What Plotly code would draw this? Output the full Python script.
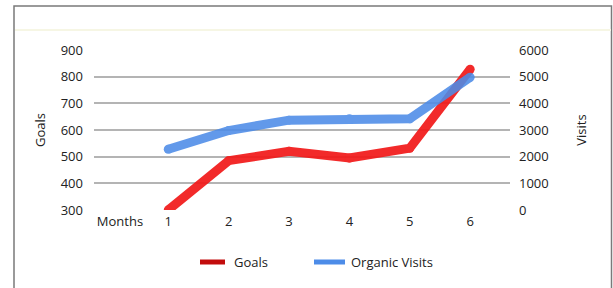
import plotly.graph_objects as go

months = [1, 2, 3, 4, 5, 6]
goals = [300, 485, 520, 495, 532, 828]
visits = [2280, 2980, 3370, 3420, 3420, 4980]
x_tick_vals = [0.2, 1, 2, 3, 4, 5, 6]
x_tick_text = ["Months", "1", "2", "3", "4", "5", "6"]
legend_names = ["Goals", "Organic Visits"]

RED = "#f21a1a"
RED_DARK = "#c20c0c"
BLUE = "#4d8ce8"
FONT = "Open Sans, Noto Sans, sans-serif"

fig = go.Figure()
fig.add_trace(go.Scatter(
    x=months, y=visits, yaxis="y2", name=legend_names[1], mode="lines+markers",
    line=dict(color=BLUE, width=9), marker=dict(color=BLUE, size=9),
    opacity=0.88, showlegend=False))
fig.add_trace(go.Scatter(
    x=months, y=goals, name=legend_names[0], mode="lines+markers",
    line=dict(color=RED, width=9), marker=dict(color=RED, size=9),
    opacity=0.93, showlegend=False))

W, H = 613, 288
L, R, T, B = 94, 510, 50, 210
pw, ph = R - L, B - T
def px(x):
    return (x - L) / pw
def py(y):
    return (B - y) / ph

LEG_Y = 262
shapes = [
    dict(type="rect", xref="paper", yref="paper", x0=px(14), x1=px(611.5), y0=py(400), y1=py(6),
         line=dict(color="#7a7a7a", width=1.5), fillcolor="rgba(0,0,0,0)", layer="below"),
    dict(type="line", xref="paper", yref="paper", x0=px(15), x1=px(611), y0=py(30), y1=py(30),
         line=dict(color="#f6f6e4", width=2), layer="below"),
    dict(type="line", xref="paper", yref="paper", x0=px(200), x1=px(225), y0=py(LEG_Y), y1=py(LEG_Y),
         line=dict(color=RED_DARK, width=5)),
    dict(type="line", xref="paper", yref="paper", x0=px(314), x1=px(345), y0=py(LEG_Y), y1=py(LEG_Y),
         line=dict(color=BLUE, width=5)),
]
annotations = [
    dict(text=legend_names[0], xref="paper", yref="paper", x=px(232), y=py(LEG_Y),
         xanchor="left", yanchor="middle", showarrow=False, font=dict(size=13, color="#222")),
    dict(text=legend_names[1], xref="paper", yref="paper", x=px(349), y=py(LEG_Y),
         xanchor="left", yanchor="middle", showarrow=False, font=dict(size=13, color="#222")),
]

fig.update_layout(
    width=W, height=H,
    margin=dict(l=L, r=W - R, t=T, b=H - B),
    paper_bgcolor="white", plot_bgcolor="white",
    font=dict(family=FONT, size=13, color="#222"),
    showlegend=False,
    xaxis=dict(range=[-0.23, 6.66], tickvals=x_tick_vals, ticktext=x_tick_text,
               showgrid=False, zeroline=False, showline=False, ticks="",
               ticklabelstandoff=2, fixedrange=True),
    yaxis=dict(range=[300, 900], dtick=100, showgrid=True, gridcolor="#b4b4b4", gridwidth=2,
               zeroline=False, showline=False, ticks="", ticklabelstandoff=10,
               title=dict(text="Goals", standoff=12, font=dict(size=13))),
    yaxis2=dict(range=[0, 6000], dtick=1000, overlaying="y", side="right", showgrid=False,
                zeroline=False, showline=False, ticks="", ticklabelstandoff=8,
                title=dict(text="Visits", standoff=29, font=dict(size=13))),
    shapes=shapes,
    annotations=annotations,
)

fig.write_html("out.html", config={"displayModeBar": False},
               post_script="document.body.style.margin='0';document.body.style.overflow='hidden';")
